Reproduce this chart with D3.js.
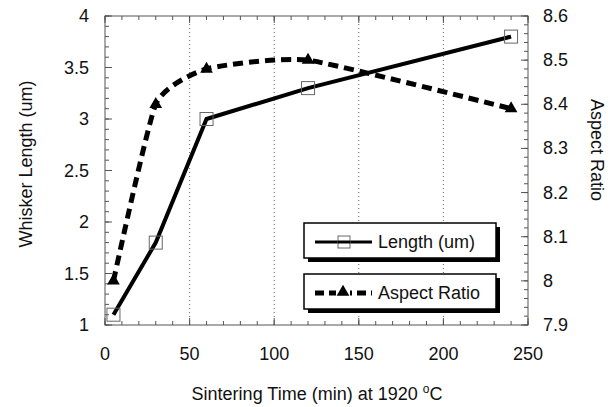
<!DOCTYPE html>
<html>
<head>
<meta charset="utf-8">
<script src="https://cdn.jsdelivr.net/npm/d3@7"></script>
<style>
  body { margin: 0; background: #fff; }
  text { font-family: 'Liberation Sans', Arial, sans-serif; fill: #111; }
</style>
</head>
<body>
<div id="chart-area"></div>
<script>
// sintering time (min)
const times = [5, 30, 60, 120, 240];
// whisker length (um)
const lengths = [1.1, 1.8, 3.0, 3.3, 3.8];
// aspect ratio
const aspect = [8.0, 8.4, 8.48, 8.5, 8.39];

const xTicks = [0, 50, 100, 150, 200, 250];
const yLeftTicks = [1, 1.5, 2, 2.5, 3, 3.5, 4];
const yRightTicks = [7.9, 8, 8.1, 8.2, 8.3, 8.4, 8.5, 8.6];
const gridTimes = [50, 100, 150, 200];

const width = 610, height = 407;
const plotLeft = 105, plotRight = 528, plotTop = 16, plotBottom = 325;

const svg = d3.select('#chart-area').append('svg')
  .attr('width', width).attr('height', height);

const x = d3.scaleLinear().domain([0, 250]).range([plotLeft, plotRight]);
const yL = d3.scaleLinear().domain([1, 4]).range([plotBottom, plotTop]);
const yR = d3.scaleLinear().domain([7.9, 8.6]).range([plotBottom, plotTop]);

//dotted vertical grid
svg.selectAll('.grid').data(gridTimes).enter().append('line')
  .attr('x1', d => x(d)).attr('x2', d => x(d))
  .attr('y1', plotTop).attr('y2', plotBottom)
  .attr('stroke', '#666').attr('stroke-width', 1)
  .attr('stroke-dasharray', '1,3');

//tick marks, all pointing inward
const frame = svg.append('g').attr('stroke', '#555').attr('stroke-width', 1);
function ticks(vals, major, dir) {
  vals.forEach(v => {
    let len = major ? 7 : 4;
    if (dir == 'bottom') frame.append('line').attr('x1', x(v)).attr('x2', x(v)).attr('y1', plotBottom).attr('y2', plotBottom - len);
    if (dir == 'top') frame.append('line').attr('x1', x(v)).attr('x2', x(v)).attr('y1', plotTop).attr('y2', plotTop + len);
    if (dir == 'left') frame.append('line').attr('x1', plotLeft).attr('x2', plotLeft + len).attr('y1', yL(v)).attr('y2', yL(v));
    if (dir == 'right') frame.append('line').attr('x1', plotRight).attr('x2', plotRight - len).attr('y1', yR(v)).attr('y2', yR(v));
  });
}
ticks(d3.range(0, 251, 10), false, 'bottom');
ticks(xTicks, true, 'bottom');
ticks(d3.range(0, 251, 10), false, 'top');
ticks(xTicks, true, 'top');
ticks(d3.range(10, 41).map(d => d / 10), false, 'left');
ticks(yLeftTicks, true, 'left');
ticks(d3.range(395, 431).map(d => d / 50), false, 'right');
ticks(yRightTicks, true, 'right');

frame.append('rect')
  .attr('x', plotLeft).attr('y', plotTop)
  .attr('width', plotRight - plotLeft).attr('height', plotBottom - plotTop)
  .attr('fill', 'none');

//tick labels
svg.selectAll('.xl').data(xTicks).enter().append('text')
  .attr('x', d => x(d)).attr('y', 360)
  .attr('text-anchor', 'middle').style('font-size', '18px')
  .text(d => d);
svg.selectAll('.yl').data(yLeftTicks).enter().append('text')
  .attr('x', 89).attr('y', d => yL(d) + 6)
  .attr('text-anchor', 'end').style('font-size', '18px')
  .text(d => d);
svg.selectAll('.yr').data(yRightTicks).enter().append('text')
  .attr('x', 543).attr('y', d => yR(d) + 6)
  .style('font-size', '18px')
  .text(d => d);

//axis titles
let xt = svg.append('text').attr('x', 317).attr('y', 400)
  .attr('text-anchor', 'middle').style('font-size', '18px');
xt.append('tspan').text('Sintering Time (min) at 1920 ');
xt.append('tspan').attr('dy', -7).style('font-size', '12px').text('o');
xt.append('tspan').attr('dy', 7).text('C');

svg.append('text')
  .attr('transform', 'translate(32,164) rotate(-90)')
  .attr('text-anchor', 'middle').style('font-size', '18px')
  .text('Whisker Length (um)');
svg.append('text')
  .attr('transform', 'translate(591,150) rotate(90)')
  .attr('text-anchor', 'middle').style('font-size', '18px')
  .text('Aspect Ratio');

//aspect ratio line (dashed, slightly rounded corners)
const arLine = d3.line().curve(d3.curveCardinal.tension(0.5))
  .x((d, i) => x(times[i])).y(d => yR(d));
svg.append('path').datum(aspect)
  .attr('d', arLine)
  .attr('fill', 'none').attr('stroke', '#000')
  .attr('stroke-width', 5).attr('stroke-dasharray', '10,6');

//length line (solid)
const lenLine = d3.line().x((d, i) => x(times[i])).y(d => yL(d));
svg.append('path').datum(lengths)
  .attr('d', lenLine)
  .attr('fill', 'none').attr('stroke', '#000')
  .attr('stroke-width', 4);

//markers
const tri = d3.symbol().type(d3.symbolTriangle).size(70);
svg.selectAll('.tri').data(aspect).enter().append('path')
  .attr('d', tri)
  .attr('transform', (d, i) => `translate(${x(times[i])},${yR(d)})`)
  .attr('fill', '#000');
svg.selectAll('.sq').data(lengths).enter().append('rect')
  .attr('x', (d, i) => x(times[i]) - 6.5).attr('y', d => yL(d) - 6.5)
  .attr('width', 13).attr('height', 13)
  .attr('fill', 'none').attr('stroke', '#666').attr('stroke-width', 1);

//legend boxes with drop shadows
function legendBox(y0, label, dashed) {
  let g = svg.append('g').attr('transform', `translate(304,${y0})`);
  g.append('rect').attr('x', 4).attr('y', 4).attr('width', 192).attr('height', 35).attr('fill', '#000');
  g.append('rect').attr('x', 0).attr('y', 0).attr('width', 192).attr('height', 35)
    .attr('fill', '#fff').attr('stroke', '#000').attr('stroke-width', 1.5);
  g.append('line').attr('x1', 11).attr('x2', 68).attr('y1', 19).attr('y2', 19)
    .attr('stroke', '#000').attr('stroke-width', dashed ? 5 : 3)
    .attr('stroke-dasharray', dashed ? '9,5' : null);
  if (dashed) {
    g.append('rect').attr('x', 32).attr('y', 12).attr('width', 14).attr('height', 14).attr('fill', '#fff');
    g.append('path').attr('d', tri).attr('transform', 'translate(39,18)').attr('fill', '#000');
  } else {
    g.append('rect').attr('x', 34).attr('y', 13).attr('width', 12).attr('height', 12)
      .attr('fill', '#fff').attr('stroke', '#666').attr('stroke-width', 1);
    g.append('line').attr('x1', 34).attr('x2', 46).attr('y1', 19).attr('y2', 19)
      .attr('stroke', '#000').attr('stroke-width', 3);
  }
  g.append('text').attr('x', 74).attr('y', 25).style('font-size', '18px').text(label);
}
legendBox(223, 'Length (um)', false);
legendBox(274, 'Aspect Ratio', true);
</script>
</body>
</html>
